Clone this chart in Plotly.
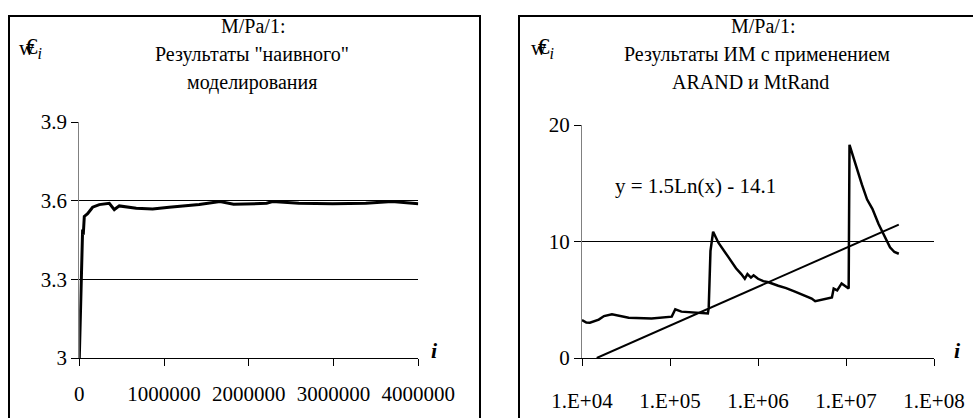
import plotly.graph_objects as go

W, H = 973, 418

# ---- Data: left panel ("naive" modelling) ----
naive_i = [0, 20000, 27000, 39000, 47000, 59000, 98000, 157000, 236000, 354000,
           413000, 472000, 672000, 865000, 1060000, 1260000, 1415000, 1660000,
           1820000, 2210000, 2280000, 2590000, 2990000, 3380000, 3690000, 4000000]
naive_c = [3.0, 3.31, 3.41, 3.49, 3.47, 3.54, 3.55, 3.575, 3.585, 3.59,
           3.566, 3.58, 3.571, 3.568, 3.575, 3.58, 3.585, 3.597,
           3.586, 3.59, 3.597, 3.59, 3.588, 3.59, 3.597, 3.588]
left_xticks = [0, 1000000, 2000000, 3000000, 4000000]
left_xtext = ["0", "1000000", "2000000", "3000000", "4000000"]
left_yticks = [3.0, 3.3, 3.6, 3.9]
left_ytext = ["3", "3.3", "3.6", "3.9"]

# ---- Data: right panel (ARAND & MtRand) ----
im_i = [10000, 11200, 12300, 15500, 17800, 21900, 33900, 61700, 104700, 114800,
        134900, 269200, 275400, 281800, 288400, 309000, 354800, 457100, 562300,
        645700, 708000, 758600, 831800, 891300, 1000000, 1148000, 1318000,
        1698000, 2089000, 2630000, 3311000, 4074000, 4467000, 5248000, 6310000,
        6918000, 7244000, 7943000, 8913000, 10000000, 10720000, 10960000,
        12590000, 15140000, 17380000, 19950000, 23440000, 27540000, 31620000,
        35480000, 39810000]
im_c = [3.26, 3.05, 3.03, 3.3, 3.6, 3.75, 3.46, 3.4, 3.55, 4.18,
        3.98, 3.83, 4.3, 8.0, 9.2, 10.84, 9.9, 8.7, 7.7,
        7.2, 6.8, 7.2, 6.9, 7.1, 6.8, 6.6, 6.5,
        6.2, 6.0, 5.7, 5.35, 5.1, 4.87, 5.0, 5.1,
        5.2, 5.96, 5.8, 6.4, 6.1, 5.96, 18.3,
        16.8, 14.9, 13.6, 12.8, 11.5, 10.4, 9.5,
        9.1, 8.95]
trend_i = [14700, 39810000]
trend_c = [0.0, 11.45]
right_xticks = [1e4, 1e5, 1e6, 1e7, 1e8]
right_xtext = ["1.E+04", "1.E+05", "1.E+06", "1.E+07", "1.E+08"]
right_yticks = [0, 10, 20]
right_ytext = ["0", "10", "20"]

FONT = "'Liberation Serif', 'Times New Roman', Times, 'DejaVu Serif', serif"

def px_x(p):
    return p / W

def px_y(p):
    return 1 - p / H

fig = go.Figure()
fig.add_trace(go.Scatter(x=naive_i, y=naive_c, mode="lines",
                         line=dict(color="black", width=3), xaxis="x", yaxis="y",
                         showlegend=False, hoverinfo="skip"))
fig.add_trace(go.Scatter(x=im_i, y=im_c, mode="lines",
                         line=dict(color="black", width=2.5), xaxis="x2", yaxis="y2",
                         showlegend=False, hoverinfo="skip"))
fig.add_trace(go.Scatter(x=trend_i, y=trend_c, mode="lines",
                         line=dict(color="black", width=2), xaxis="x2", yaxis="y2",
                         showlegend=False, hoverinfo="skip"))

tickfont = dict(family=FONT, size=21, color="black")
common_x = dict(showline=True, linecolor="black", linewidth=1, ticks="outside",
                ticklen=7, tickcolor="black", tickwidth=1, showgrid=False,
                zeroline=False, tickfont=tickfont, fixedrange=True, automargin=False)
common_y = dict(showline=True, linecolor="#808080", linewidth=1, ticks="outside",
                ticklen=7, tickcolor="black", tickwidth=1, showgrid=True,
                gridcolor="black", gridwidth=1, zeroline=False, tickfont=tickfont,
                fixedrange=True, automargin=False)

fig.update_layout(
    template="none",
    font=dict(family=FONT, size=21, color="black"),
    width=W, height=H,
    margin=dict(l=0, r=0, t=0, b=0, pad=0, autoexpand=False),
    paper_bgcolor="white", plot_bgcolor="white",
    xaxis=dict(domain=[px_x(79.3), px_x(418.3)], range=[0, 4000000],
               tickvals=left_xticks, ticktext=left_xtext, anchor="y",
               ticklabelstandoff=10, **common_x),
    yaxis=dict(domain=[px_y(358), px_y(122)], range=[3.0, 3.9],
               tickvals=left_yticks, ticktext=left_ytext, anchor="x", **common_y),
    xaxis2=dict(domain=[px_x(582), px_x(934)], type="log", range=[4, 8],
                tickvals=right_xticks, ticktext=right_xtext, anchor="y2",
                ticklabelstandoff=17, **common_x),
    yaxis2=dict(domain=[px_y(358), px_y(125)], range=[0, 20],
                tickvals=right_yticks, ticktext=right_ytext, anchor="x2", **common_y),
)

# Panel borders
for x0, x1 in [(9, 480), (519, 990)]:
    fig.add_shape(type="rect", xref="paper", yref="paper",
                  x0=px_x(x0), x1=px_x(x1), y0=px_y(440), y1=px_y(16),
                  line=dict(color="black", width=2), fillcolor="rgba(0,0,0,0)",
                  layer="above")

def ann(text, x, y, size=20, xanchor="center"):
    fig.add_annotation(text=text, xref="paper", yref="paper",
                       x=px_x(x), y=px_y(y), xanchor=xanchor, yanchor="middle",
                       showarrow=False, font=dict(family=FONT, size=size, color="black"))

# Titles
ann("M/Pa/1:", 253, 26)
ann("Результаты \"наивного\"", 252, 55)
ann("моделирования", 252, 82)
ann("M/Pa/1:", 763, 26)
ann("Результаты ИМ с применением", 757, 55)
ann("ARAND и MtRand", 750, 82)

# Y-axis symbol (overlapping glyphs)
for dx in (0, 512):
    ann("w", 27 + dx, 48, size=21)
    ann("€<sub><i>i</i></sub>", 34 + dx, 48, size=23)

# X-axis titles
ann("<b><i>i</i></b>", 434, 350, size=22)
ann("<b><i>i</i></b>", 957, 350, size=22)

# Trend equation
ann("y = 1.5Ln(x) - 14.1", 695, 186, size=21)

fig.write_html("out.html")
